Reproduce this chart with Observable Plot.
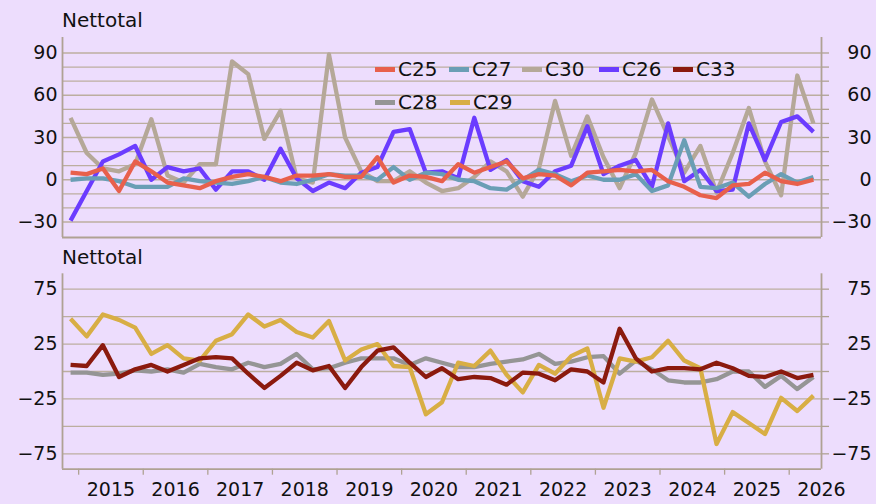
<!DOCTYPE html>
<html><head><meta charset="utf-8">
<script src="https://cdn.jsdelivr.net/npm/d3@7"></script>
<script src="https://cdn.jsdelivr.net/npm/@observablehq/plot@0.6"></script>
<style>
html,body{margin:0;padding:0;background:#EDDDFD;}
#chart{position:relative;width:876px;height:504px;background:#EDDDFD;font-family:"DejaVu Sans",sans-serif;color:#111;overflow:hidden}
#chart svg{position:absolute;left:0;}
.title{position:absolute;left:62px;font-size:20px;line-height:24px;}
.leg{position:absolute;font-size:20px;line-height:24px;height:24px;display:flex;align-items:center;white-space:nowrap}
.sw{width:20px;height:5px;margin-right:3px}
</style></head>
<body><div id="chart"></div>
<script>
const quarters = ["2014 Q4",
 "2015 Q1","2015 Q2","2015 Q3","2015 Q4","2016 Q1","2016 Q2","2016 Q3","2016 Q4",
 "2017 Q1","2017 Q2","2017 Q3","2017 Q4","2018 Q1","2018 Q2","2018 Q3","2018 Q4",
 "2019 Q1","2019 Q2","2019 Q3","2019 Q4","2020 Q1","2020 Q2","2020 Q3","2020 Q4",
 "2021 Q1","2021 Q2","2021 Q3","2021 Q4","2022 Q1","2022 Q2","2022 Q3","2022 Q4",
 "2023 Q1","2023 Q2","2023 Q3","2023 Q4","2024 Q1","2024 Q2","2024 Q3","2024 Q4",
 "2025 Q1","2025 Q2","2025 Q3","2025 Q4","2026 Q1","2026 Q2"];

// Top panel series
const C25 = [5,4,8,-8,13,6,-2,-4,-6,-1,2,4,2,-1,3,3,4,2,2,16,-2,3,2,-1,11,5,9,13,1,4,3,-4,5,6,7,6,7,-1,-5,-11,-13,-4,-3,5,-1,-3,0];
const C27 = [0,1,1,-1,-5,-5,-5,1,-1,-2,-3,-1,2,-2,-3,0,4,3,3,0,9,0,5,4,0,-1,-6,-7,0,7,4,-1,3,0,0,4,-8,-4,28,-5,-6,-2,-12,-3,4,-2,2];
const C30 = [44,19,8,6,11,43,3,-2,11,11,84,75,29,49,1,-2,89,30,6,-1,-1,6,-2,-8,-6,2,13,6,-12,8,56,17,45,16,-6,19,57,31,5,24,-9,19,51,13,-11,74,40];
const C26 = [-29,-8,13,18,24,0,9,6,8,-7,6,6,0,22,1,-8,-2,-6,5,9,34,36,5,6,1,44,7,14,-1,-5,6,10,38,4,10,14,-5,40,-1,7,-8,-7,40,14,41,45,34];
// Bottom panel series
const C33 = [6,5,24,-5,2,6,0,6,12,13,12,-2,-15,-4,8,1,5,-15,4,19,22,8,-5,3,-7,-5,-6,-12,-1,-2,-8,2,0,-10,39,12,0,3,3,2,8,3,-4,-5,0,-6,-3];
const C28 = [-1,-1,-3,-2,1,0,2,-1,7,4,2,8,4,7,16,2,3,8,12,12,12,6,12,8,4,4,7,9,11,16,7,9,13,14,-2,10,2,-8,-10,-10,-7,0,0,-14,-4,-16,-5];
const C29 = [48,32,52,47,40,16,24,12,10,28,34,52,41,47,36,31,46,10,20,25,5,4,-39,-28,8,5,19,-3,-19,6,-2,14,21,-33,12,9,13,28,10,3,-66,-37,-47,-57,-24,-36,-22];

const years = [2015,2016,2017,2018,2019,2020,2021,2022,2023,2024,2025,2026];
const topLabels = [-30,0,30,60,90];
const topGrid = [-30,-20,-10,0,10,20,30,40,50,60,70,80,90];
const botLabels = [-75,-25,25,75];
const botGrid = [-75,-50,-25,0,25,50,75];

const colors = {C25:"#E8604C",C27:"#6A9EB5",C30:"#B5A898",C26:"#6B3CFF",C33:"#8B1A0E",C28:"#959595",C29:"#D8AE45"};

const qx = q => { const [y, qq] = q.split(" "); return +y + (+qq.slice(1) - 1) * 0.25 + 0.125; };
const xDomain = [2014.75, 2026.5];
const rows = arr => arr.map((v, i) => ({x: qx(quarters[i]), v}));

const gridColor = "#BCAE9F", axisColor = "#AFA293";
const FONT = '"DejaVu Sans", sans-serif';
const W = 876;
const chart = document.getElementById("chart");

function line(arr, name) {
  return Plot.line(rows(arr), {x: "x", y: "v", stroke: colors[name], strokeWidth: 4.3, strokeLinejoin: "round", strokeLinecap: "butt"});
}

const yTop = [-41, 101];
const topPlot = Plot.plot({
  width: W, height: 245, marginLeft: 62, marginRight: 55, marginTop: 37, marginBottom: 8,
  style: {background: "transparent", fontFamily: FONT, fontSize: "19px", color: "#111", overflow: "visible"},
  x: {domain: xDomain, axis: null, label: null},
  y: {domain: yTop, axis: null, label: null},
  marks: [
    Plot.gridY(topGrid, {stroke: gridColor, strokeOpacity: 1, strokeWidth: 1.3}),
    Plot.ruleX(xDomain, {stroke: axisColor, strokeWidth: 1.8}),
    Plot.ruleY([yTop[0]], {stroke: axisColor, strokeWidth: 1.8}),
    Plot.axisY(topGrid, {anchor: "right", label: null, tickSize: 7, tickFormat: () => "", stroke: axisColor, strokeWidth: 1.3}),
    Plot.axisY(topLabels, {anchor: "left", label: null, tickSize: 0, tickPadding: 5, fill: "#111"}),
    Plot.axisY(topLabels, {anchor: "right", label: null, tickSize: 0, tickPadding: 50, textAnchor: "end", fill: "#111"}),
    line(C30, "C30"),
    line(C26, "C26"),
    line(C27, "C27"),
    line(C25, "C25")
  ]
});
topPlot.style.top = "0px";
chart.appendChild(topPlot);

const yBot = [-89, 89];
const botPlot = Plot.plot({
  width: W, height: 259, marginLeft: 62, marginRight: 55, marginTop: 28.3, marginBottom: 35.3,
  style: {background: "transparent", fontFamily: FONT, fontSize: "19px", color: "#111", overflow: "visible"},
  x: {domain: xDomain, axis: null, label: null},
  y: {domain: yBot, axis: null, label: null},
  marks: [
    Plot.gridY(botGrid, {stroke: gridColor, strokeOpacity: 1, strokeWidth: 1.3}),
    Plot.ruleX(xDomain, {stroke: axisColor, strokeWidth: 1.8}),
    Plot.ruleY([yBot[0]], {stroke: axisColor, strokeWidth: 1.8}),
    Plot.axisY(botGrid, {anchor: "right", label: null, tickSize: 7, tickFormat: () => "", stroke: axisColor, strokeWidth: 1.3}),
    Plot.axisY(botLabels, {anchor: "left", label: null, tickSize: 0, tickPadding: 5, fill: "#111"}),
    Plot.axisY(botLabels, {anchor: "right", label: null, tickSize: 0, tickPadding: 50, textAnchor: "end", fill: "#111"}),
    Plot.axisX(years, {anchor: "bottom", label: null, tickSize: 6, tickFormat: () => "", stroke: axisColor, strokeWidth: 1.3}),
    Plot.axisX(years.map(y => y + 0.5), {anchor: "bottom", label: null, tickSize: 0, tickPadding: 13, tickFormat: d => String(Math.floor(d)), fill: "#111"}),
    line(C28, "C28"),
    line(C29, "C29"),
    line(C33, "C33")
  ]
});
botPlot.style.top = "245px";
chart.appendChild(botPlot);

function addDiv(cls, html, left, top) {
  const d = document.createElement("div");
  d.className = cls; d.innerHTML = html;
  d.style.left = left + "px"; d.style.top = top + "px";
  chart.appendChild(d);
}
addDiv("title", "Nettotal", 62, 8);
addDiv("title", "Nettotal", 62, 245);

const legendItems = [
  ["C25", 375, 57], ["C27", 449, 57], ["C30", 522, 57], ["C26", 599, 57], ["C33", 673, 57],
  ["C28", 375, 90], ["C29", 450, 90]
];
for (const [name, left, top] of legendItems) {
  addDiv("leg", `<span class="sw" style="background:${colors[name]}"></span><span>${name}</span>`, left, top);
}
</script>
</body></html>
